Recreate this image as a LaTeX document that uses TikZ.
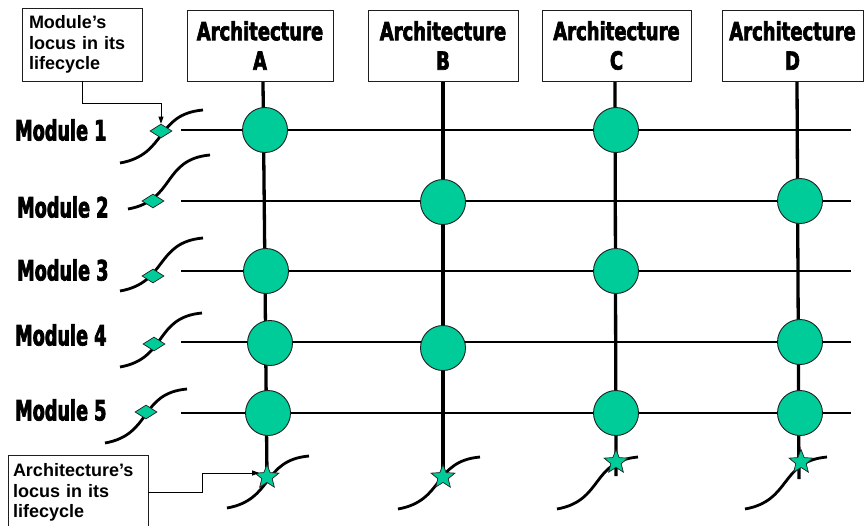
\documentclass[tikz,border=0pt]{standalone}
\usepackage{fontspec}
\setmainfont{Liberation Sans}
\newfontfamily\archfont[FakeStretch=0.72,BoldFeatures={FakeBold=2.5}]{DejaVu Sans}
\newfontfamily\modfont[FakeStretch=0.63,BoldFeatures={FakeBold=2.5}]{DejaVu Sans}
\usetikzlibrary{shapes.geometric,arrows.meta,calc,backgrounds}
\definecolor{locus}{RGB}{0,204,153}
\definecolor{edge}{RGB}{30,30,30}
\begin{document}
\begin{tikzpicture}[x=1pt,y=-1pt,
 archbox/.style={draw=edge,line width=1pt,minimum height=71pt,inner sep=0pt,align=center,font=\archfont\bfseries\fontsize{25}{29.5}\selectfont},
 notebox/.style={draw=edge,line width=0.9pt,minimum height=73pt,align=left,inner ysep=0pt,font=\bfseries\fontsize{18}{20.5}\selectfont},
 modlabel/.style={anchor=west,inner sep=0pt,font=\modfont\bfseries\fontsize{28}{28}\selectfont},
 hline/.style={line width=1.1pt},
 vline/.style={line width=3.3pt},
 curve/.style={line width=2.8pt,out=10,in=185,looseness=1.25},
 hub/.style={circle,draw=edge,line width=0.9pt,fill=locus,minimum size=45pt,inner sep=0pt},
 gem/.style={diamond,draw=edge,line width=0.7pt,fill=locus,minimum width=22pt,minimum height=14pt,inner sep=0pt},
 starnode/.style={star,star points=5,star point ratio=2.3,draw=edge,line width=0.7pt,fill=locus,minimum size=25pt,inner sep=0pt},
 pointer/.style={line width=0.8pt,-{Triangle[length=7pt,width=5pt]}}]
\useasboundingbox (0,0) rectangle (867,525);

% architecture boxes
\node[archbox,minimum width=146pt] (aA) at (260,45.5) {Architecture\\A};
\node[archbox,minimum width=150pt] (aB) at (443,45.5) {Architecture\\B};
\node[archbox,minimum width=149pt] (aC) at (616.5,45.5) {Architecture\\C};
\node[archbox,minimum width=141pt] (aD) at (792.5,45.5) {Architecture\\D};

% notes
\node[notebox,minimum width=120pt,text width=106pt,inner xsep=7pt] (n1) at (82,44.5) {Module’s\\locus in its\\lifecycle};
\node[notebox,minimum width=140pt,text width=130pt,inner xsep=5pt,minimum height=75pt] (n2) at (78,492.5) {Architecture’s\\locus in its\\lifecycle};

% module labels
\node[modlabel] (m1) at (15,130) {Module 1};
\node[modlabel] (m2) at (17,207) {Module 2};
\node[modlabel] (m3) at (17,270) {Module 3};
\node[modlabel] (m4) at (15,335) {Module 4};
\node[modlabel] (m5) at (15,410) {Module 5};

% row line ends
\coordinate (r1s) at (181,130); \coordinate (r1e) at (851,130);
\coordinate (r2s) at (181,201); \coordinate (r2e) at (851,201);
\coordinate (r3s) at (181,271); \coordinate (r3e) at (851,271);
\coordinate (r4s) at (181,342); \coordinate (r4e) at (851,342);
\coordinate (r5s) at (181,413); \coordinate (r5e) at (851,413);

% bottom ends of the architecture lines
\coordinate (eA) at (267,477);
\coordinate (eB) at (443,477);
\coordinate (eC) at (616,476);
\coordinate (eD) at (799,479);

% module lifecycle curves
\draw[curve] (120,163) to (203,110);
\draw[curve] (128,209) to (210,155);
\draw[curve] (120,291) to (203,238);
\draw[curve] (120,367) to (202,313);
\draw[curve] (105,443) to (187,389);
% architecture lifecycle curves
\draw[curve] (227,508) to (309,456);
\draw[curve] (398,509) to (480,457);
\draw[curve] (557,509) to (638,457);
\draw[curve] (745,509) to (827,457);

% hubs
\node[hub] (h1A) at (265,130) {};
\node[hub] (h1C) at (616,130) {};
\node[hub] (h2B) at (443,202) {};
\node[hub] (h2D) at (800,201) {};
\node[hub] (h3A) at (266,271) {};
\node[hub] (h3C) at (616,271) {};
\node[hub] (h4A) at (270,343) {};
\node[hub] (h4B) at (443,348) {};
\node[hub] (h4D) at (800,342) {};
\node[hub] (h5A) at (268,413) {};
\node[hub] (h5C) at (616,413) {};
\node[hub] (h5D) at (800,413) {};

% diamonds
\node[gem] (d1) at (161,131) {};
\node[gem] (d2) at (153,201) {};
\node[gem] (d3) at (153,276) {};
\node[gem] (d4) at (154,344) {};
\node[gem] (d5) at (146,412) {};

% stars
\node[starnode] (sA) at (267,477) {};
\node[starnode] (sB) at (443,477) {};
\node[starnode] (sC) at (616,462) {};
\node[starnode] (sD) at (801,462) {};

\begin{scope}[on background layer]
\draw[hline] (r1s) -- (r1e);
\draw[hline] (r2s) -- (r2e);
\draw[hline] (r3s) -- (r3e);
\draw[hline] (r4s) -- (r4e);
\draw[hline] (r5s) -- (r5e);
\draw[vline] ([xshift=3pt]aA.south) -- (eA);
\draw[vline] (aB.south) -- (eB);
\draw[vline] ([xshift=-1.5pt]aC.south) -- (eC);
\draw[vline] ([xshift=4.5pt]aD.south) -- (eD);
\end{scope}

% pointers
\draw[pointer] (n1.south) -- ++(0,22) -| (d1.north);
\draw[pointer] (n2.east) -- ++(54,0) |- ([yshift=4pt]sA.west);
\end{tikzpicture}
\end{document}
